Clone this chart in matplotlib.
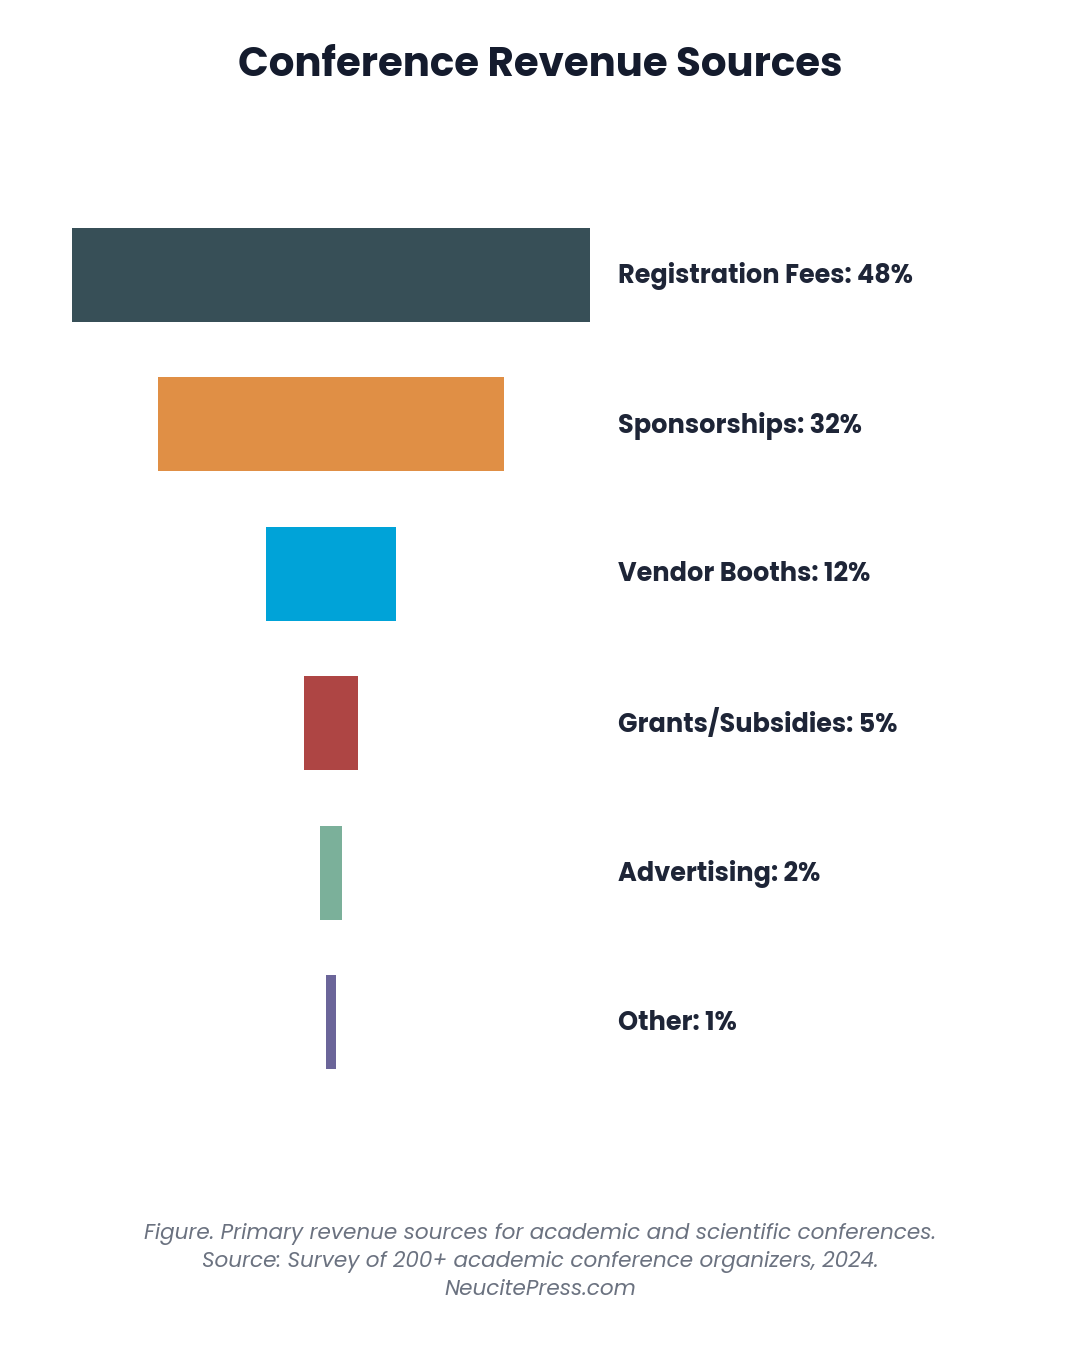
import matplotlib.pyplot as plt

plt.rcParams['font.family'] = ['Poppins', 'Inter', 'DejaVu Sans']

categories = ['Registration Fees', 'Sponsorships', 'Vendor Booths',
              'Grants/Subsidies', 'Advertising', 'Other']
shares = [48, 32, 12, 5, 2, 1]
colors = ['#374f57', '#e08f45', '#00a3d8', '#ae4544', '#7bb09a', '#6b6599']

fig = plt.figure(figsize=(10.8, 13.5), dpi=100)
ax = fig.add_axes([0, 0, 1, 1])

# centred bars -> funnel look
lefts = [-v / 2 for v in shares]
ax.barh(range(len(shares)), shares, left=lefts, height=0.63, color=colors)

for i, (c, v) in enumerate(zip(categories, shares)):
    ax.text(26.6, i + 0.008, f'{c}: {v}%', va='center', ha='left',
            fontsize=18.4, fontweight='bold', color='#1e2537')

ax.set_xlim(-30.65, 69.35)
ax.set_ylim(7.195, -1.84)
ax.axis('off')

fig.text(0.5, 1 - 67 / 1350, 'Conference Revenue Sources', ha='center', va='center',
         fontsize=29, fontweight='bold', color='#141b2d')

caption = ('Figure. Primary revenue sources for academic and scientific conferences.\n'
           'Source: Survey of 200+ academic conference organizers, 2024.\n'
           'NeucitePress.com')
fig.text(0.5, 1 - 1262 / 1350, caption, ha='center', va='center', fontsize=15.5,
         style='italic', color='#6b7280', linespacing=1.36)

plt.savefig('out.png', dpi=100)
